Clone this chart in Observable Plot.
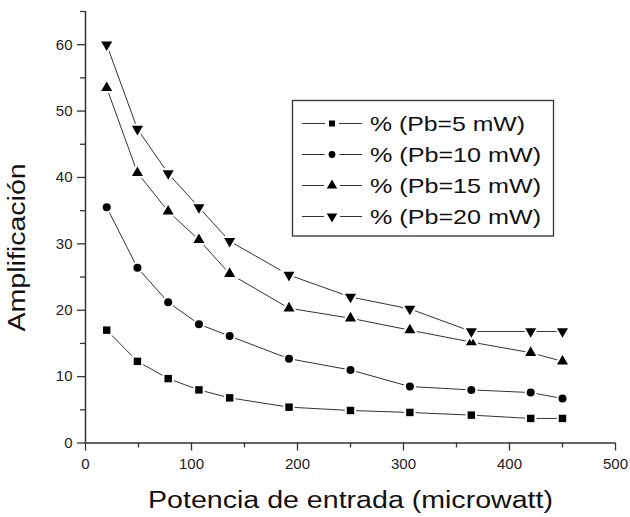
<!DOCTYPE html>
<html><head><meta charset="utf-8">
<script src="https://cdn.jsdelivr.net/npm/d3@7"></script>
<script src="https://cdn.jsdelivr.net/npm/@observablehq/plot@0.6"></script>
<style>
html,body{margin:0;padding:0;background:#fff;}
#wrap{position:relative;width:630px;height:517px;overflow:hidden;}
#wrap svg{display:block;}
#legend{position:absolute;left:0;top:0;pointer-events:none;}
</style></head><body><div id="wrap"></div>
<script>
// ---- data ----
const potencia = [20, 49, 78, 107, 136, 192, 250, 306, 364, 420, 450];
const pb5  = [17.0, 12.3, 9.7, 8.0, 6.8, 5.4, 4.9, 4.6, 4.2, 3.7, 3.7];
const pb10 = [35.5, 26.4, 21.2, 17.9, 16.1, 12.7, 11.0, 8.5, 8.0, 7.6, 6.7];
const pb15 = [53.5, 40.7, 34.9, 30.6, 25.5, 20.3, 18.8, 17.0, 15.2, 13.6, 12.3];
const pb20 = [60.0, 47.3, 40.6, 35.5, 30.4, 25.3, 22.0, 20.2, 16.8, 16.8, 16.8];
const seriesNames = ["% (Pb=5 mW)", "% (Pb=10 mW)", "% (Pb=15 mW)", "% (Pb=20 mW)"];
const seriesValues = [pb5, pb10, pb15, pb20];
const xTicks = [0, 100, 200, 300, 400, 500];
const xMinor = [50, 150, 250, 350, 450];
const yTicks = [0, 10, 20, 30, 40, 50, 60];
const yMinor = [5, 15, 25, 35, 45, 55, 65];
const xLabel = "Potencia de entrada (microwatt)";
const yLabel = "Amplificación";

// ---- styles ----
const symbols = ["square", "circle", "triangle", "triangle"];
const rotations = [0, 0, 0, 180];
const radii = [4.2, 4, 4.1, 4.1];
const axisColor = "#333";

const data = [];
seriesValues.forEach((vals, s) => vals.forEach((v, i) => data.push({x: potencia[i], y: v, s: seriesNames[s]})));

const font = "Liberation Sans, Arial, Helvetica, sans-serif";

const marks = [
  Plot.ruleY([0], {stroke: axisColor, strokeWidth: 1.5}),
  Plot.ruleX([0], {stroke: axisColor, strokeWidth: 1.5}),
  Plot.axisX({ticks: xTicks, tickSize: 8, tickPadding: 7, label: null, stroke: axisColor, strokeWidth: 1.3, fill: "#222", fontSize: 15}),
  Plot.axisX({ticks: xMinor, tickSize: 5, tickFormat: () => "", label: null, stroke: axisColor, strokeWidth: 1.3}),
  Plot.axisY({ticks: yTicks, tickSize: 8, tickPadding: 5, label: null, stroke: axisColor, strokeWidth: 1.3, fill: "#222", fontSize: 15}),
  Plot.axisY({ticks: yMinor, tickSize: 5, tickFormat: () => "", label: null, stroke: axisColor, strokeWidth: 1.3}),
  Plot.line(data, {x: "x", y: "y", z: "s", stroke: "#333", strokeWidth: 1}),
  ...seriesNames.map((name, s) => Plot.dot(data.filter(d => d.s === name), {
    x: "x", y: "y", symbol: symbols[s], rotate: rotations[s], r: radii[s],
    fill: "#000", stroke: "#fff", strokeWidth: 4, paintOrder: "stroke"
  })),
  Plot.text([xLabel], {text: d => d, frameAnchor: "bottom", dy: 64.5, lineAnchor: "bottom", fontSize: 23, fill: "#111"}),
  Plot.text([yLabel], {text: d => d, frameAnchor: "left", rotate: -90, lineAnchor: "bottom", fontSize: 23, fill: "#111"})
];

const chart = Plot.plot({
  width: 630, height: 517,
  marginLeft: 85, marginRight: 15, marginTop: 11, marginBottom: 74.5,
  x: {domain: [0, 500]},
  y: {domain: [0, 65]},
  style: {fontFamily: font, fontSize: "15px", background: "#fff", color: "#222"},
  marks
});
document.getElementById("wrap").appendChild(chart);

// stretch / place the axis labels like the original
const allText = Array.from(chart.querySelectorAll("text"));
const xl = allText.find(t => t.textContent === xLabel);
if (xl) { xl.setAttribute("textLength", 405); xl.setAttribute("lengthAdjust", "spacingAndGlyphs"); }
const yl = allText.find(t => t.textContent === yLabel);
if (yl) {
  if (yl.parentNode && yl.parentNode.tagName.toLowerCase() === "g") yl.parentNode.removeAttribute("transform");
  yl.removeAttribute("x"); yl.removeAttribute("y"); yl.removeAttribute("dx"); yl.removeAttribute("dy");
  yl.setAttribute("transform", "translate(25,247.4) rotate(-90)");
  yl.setAttribute("text-anchor", "middle");
  yl.setAttribute("textLength", 168);
  yl.setAttribute("lengthAdjust", "spacingAndGlyphs");
}

// ---- legend (overlay) ----
const leg = d3.select("#wrap").append("svg").attr("id", "legend").attr("width", 630).attr("height", 517)
  .style("font-family", font);
leg.append("rect").attr("x", 292.5).attr("y", 100.5).attr("width", 261).attr("height", 135.5)
  .attr("fill", "#fff").attr("stroke", "#333").attr("stroke-width", 1.3);
const rowY = [123.5, 154.5, 185.5, 216.5];
const legSym = [d3.symbolSquare, d3.symbolCircle, d3.symbolTriangle, d3.symbolTriangle];
const legSize = [36, 36, 48, 48];
const legWidths = [155, 171, 171, 171];
seriesNames.forEach((name, s) => {
  const y = rowY[s];
  const g = leg.append("g");
  g.append("line").attr("x1", 302).attr("x2", 362).attr("y1", y).attr("y2", y).attr("stroke", "#333").attr("stroke-width", 1.2);
  g.append("path").attr("d", d3.symbol(legSym[s], legSize[s])())
    .attr("transform", `translate(332,${y}) rotate(${rotations[s]})`)
    .attr("fill", "#000").attr("stroke", "#fff").attr("stroke-width", 8).attr("paint-order", "stroke");
  g.append("text").attr("x", 370).attr("y", y + 7).attr("font-size", 21).attr("fill", "#111")
    .attr("textLength", legWidths[s]).attr("lengthAdjust", "spacingAndGlyphs").text(name);
});
</script></body></html>
